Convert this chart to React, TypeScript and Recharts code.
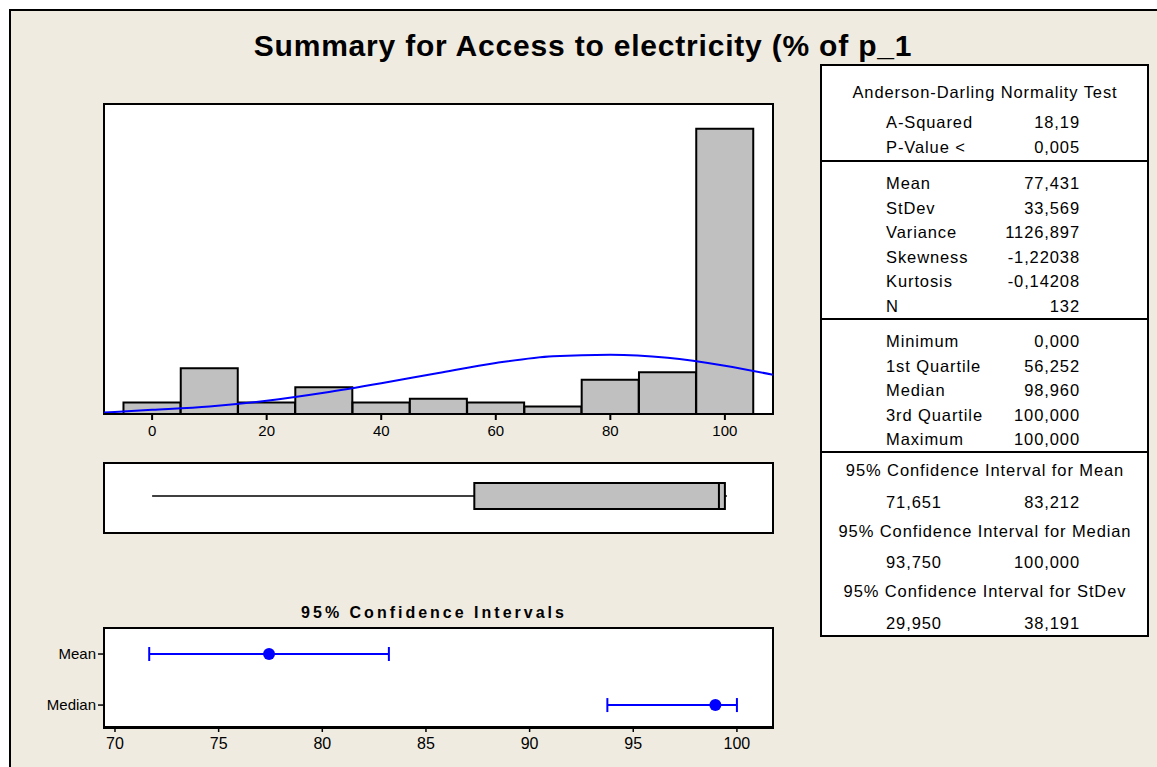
import React from "react";
import {
  ComposedChart,
  Bar,
  Line,
  XAxis,
  YAxis,
  ScatterChart,
  Scatter,
  ErrorBar,
} from "recharts";

const FONT = '"Liberation Sans", Arial, sans-serif';
const NARROW = '"Liberation Sans Narrow", "Arial Narrow", "Liberation Sans", sans-serif';
const BG = "#EFEBE0";

// histogram: bin midpoints (width 10) and counts
const binMids = [0, 10, 20, 30, 40, 50, 60, 70, 80, 90, 100];
const binCounts = [3, 12, 3, 7, 3, 4, 3, 2, 9, 11, 75];
const histTicks = [0, 20, 40, 60, 80, 100];

// fitted normal curve (counts)
const curveX = [-8.4, 0, 10, 20, 30, 40, 50, 60, 70, 80, 90, 100, 108.4];
const curveY = [0.4, 1.1, 2.0, 3.5, 5.6, 8.1, 10.8, 13.4, 15.2, 15.6, 14.8, 12.7, 10.3];

// boxplot: min, q1, median, q3, max
const boxValues = [0, 56.252, 98.96, 100, 100];

// confidence intervals
const ciLabels = ["Mean", "Median"];
const ciCenter = [77.431, 98.96];
const ciLow = [71.651, 93.75];
const ciHigh = [83.212, 100];
const ciTicks = [70, 75, 80, 85, 90, 95, 100];

// stats table
const adRows = [
  ["A-Squared", "18,19"],
  ["P-Value <", "0,005"],
];
const momentRows = [
  ["Mean", "77,431"],
  ["StDev", "33,569"],
  ["Variance", "1126,897"],
  ["Skewness", "-1,22038"],
  ["Kurtosis", "-0,14208"],
  ["N", "132"],
];
const quantileRows = [
  ["Minimum", "0,000"],
  ["1st Quartile", "56,252"],
  ["Median", "98,960"],
  ["3rd Quartile", "100,000"],
  ["Maximum", "100,000"],
];
const ciTableRows = [
  ["95% Confidence Interval for Mean", "71,651", "83,212"],
  ["95% Confidence Interval for Median", "93,750", "100,000"],
  ["95% Confidence Interval for StDev", "29,950", "38,191"],
];

const histData = binMids.map((mid, i) => ({ mid, count: binCounts[i] }));
const curveData = curveX.map((x, i) => ({ x, y: curveY[i] }));
const boxData = [{ name: "box", range: [boxValues[0], boxValues[4]] }];
const ciData = ciLabels.map((name, i) => ({
  name,
  x: ciCenter[i],
  y: ciLabels.length - i,
  err: [ciCenter[i] - ciLow[i], ciHigh[i] - ciCenter[i]],
}));

function Txt({ x, y, align = "left", children, style }: any) {
  const w = 1000;
  const left = align === "left" ? x : align === "right" ? x - w : x - w / 2;
  return (
    <div
      style={{
        position: "absolute",
        left,
        top: y - 11,
        width: w,
        height: 22,
        lineHeight: "22px",
        textAlign: align,
        whiteSpace: "nowrap",
        ...style,
      }}
    >
      {children}
    </div>
  );
}

function Panel({ left, top, width, height }: any) {
  return (
    <div
      style={{
        position: "absolute",
        left,
        top,
        width,
        height,
        boxSizing: "border-box",
        border: "2px solid #000",
        background: "#fff",
      }}
    />
  );
}

// box + whisker drawn inside the bar that spans min..max
const BoxShape = (props: any) => {
  const { x, y, width, height } = props;
  const [mn, q1, med, q3, mx] = boxValues;
  const px = (v: number) => x + (width * (v - mn)) / (mx - mn);
  const mid = y + height / 2;
  return (
    <g>
      <line x1={px(mn)} y1={mid} x2={px(q1)} y2={mid} stroke="#000" strokeWidth={1.5} />
      <line x1={px(q3)} y1={mid} x2={px(mx) + 2} y2={mid} stroke="#000" strokeWidth={1.5} />
      <rect x={px(q1)} y={y} width={px(q3) - px(q1)} height={height} fill="#C0C0C0" stroke="#000" strokeWidth={2} />
      <line x1={px(med)} y1={y} x2={px(med)} y2={y + height} stroke="#000" strokeWidth={2} />
    </g>
  );
};

const Dot = (props: any) => <circle cx={props.cx} cy={props.cy} r={6} fill="#0000FF" />;

export default function App() {
  const tableLeft = 886;
  const tableRight = 1080;
  const rowStep = 24.5;
  return (
    <div
      style={{
        position: "absolute",
        left: 0,
        top: 0,
        width: 1157,
        height: 767,
        overflow: "hidden",
        background: "#fff",
        fontFamily: FONT,
        color: "#000",
      }}
    >
      <div
        style={{
          position: "absolute",
          left: 9,
          top: 9,
          width: 1300,
          height: 900,
          borderLeft: "2px solid #000",
          borderTop: "2px solid #000",
          background: BG,
        }}
      />

      <Txt x={583} y={46} align="center" style={{ fontSize: 30, fontWeight: "bold", letterSpacing: 0.8 }}>
        Summary for Access to electricity (% of p_1
      </Txt>

      {/* histogram */}
      <Panel left={103} top={103} width={671} height={312} />
      <div style={{ position: "absolute", left: 104, top: 104 }}>
        <ComposedChart
          width={669}
          height={340}
          data={histData}
          margin={{ top: 0, right: 0, bottom: 0, left: 0 }}
          barCategoryGap={0}
          barGap={0}
        >
          <XAxis
            type="number"
            dataKey="mid"
            domain={[-8.4, 108.4]}
            allowDataOverflow
            ticks={histTicks}
            height={30}
            tickSize={6}
            tickMargin={5}
            axisLine={{ stroke: "#000", strokeWidth: 2 }}
            tickLine={{ stroke: "#000", strokeWidth: 2 }}
            tick={{ fill: "#000", fontSize: 15, fontFamily: FONT }}
          />
          <XAxis xAxisId="curve" type="number" dataKey="x" domain={[-8.4, 108.4]} allowDataOverflow hide />
          <YAxis hide domain={[0, 81.5]} allowDataOverflow />
          <Bar
            dataKey="count"
            fill="#C0C0C0"
            stroke="#000"
            strokeWidth={2}
            isAnimationActive={false}
          />
          <Line
            xAxisId="curve"
            data={curveData}
            dataKey="y"
            type="monotone"
            stroke="#0000FF"
            strokeWidth={2}
            dot={false}
            isAnimationActive={false}
          />
        </ComposedChart>
      </div>

      {/* boxplot */}
      <Panel left={103} top={462} width={671} height={72} />
      <div style={{ position: "absolute", left: 104, top: 463 }}>
        <ComposedChart
          width={669}
          height={70}
          layout="vertical"
          data={boxData}
          margin={{ top: 0, right: 0, bottom: 4, left: 0 }}
        >
          <XAxis type="number" domain={[-8.4, 108.4]} allowDataOverflow hide />
          <YAxis type="category" dataKey="name" hide />
          <Bar dataKey="range" barSize={26} shape={BoxShape} isAnimationActive={false} />
        </ComposedChart>
      </div>

      {/* confidence intervals */}
      <Txt x={434} y={613} align="center" style={{ fontSize: 16, fontWeight: "bold", letterSpacing: 3 }}>
        95% Confidence Intervals
      </Txt>
      <Panel left={103} top={627} width={671} height={102} />
      <div style={{ position: "absolute", left: 44, top: 628 }}>
        <ScatterChart width={729} height={124} margin={{ top: 0, right: 0, bottom: 0, left: 0 }}>
          <XAxis
            type="number"
            dataKey="x"
            domain={[69.47, 101.74]}
            allowDataOverflow
            ticks={ciTicks}
            height={25}
            tickSize={5}
            tickMargin={6}
            axisLine={{ stroke: "#000", strokeWidth: 2 }}
            tickLine={{ stroke: "#000", strokeWidth: 1.5 }}
            tick={{ fill: "#000", fontSize: 16, fontFamily: NARROW }}
          />
          <YAxis
            type="number"
            dataKey="y"
            domain={[0.57, 2.51]}
            allowDataOverflow
            ticks={[1, 2]}
            tickFormatter={(v: number) => ciLabels[ciLabels.length - v]}
            width={60}
            tickSize={6}
            tickMargin={2}
            axisLine={{ stroke: "#000", strokeWidth: 2 }}
            tickLine={{ stroke: "#000", strokeWidth: 1.5 }}
            tick={{ fill: "#000", fontSize: 15, fontFamily: NARROW }}
          />
          <Scatter data={ciData} shape={Dot} isAnimationActive={false}>
            <ErrorBar dataKey="err" direction="x" width={7} stroke="#0000FF" strokeWidth={2} />
          </Scatter>
        </ScatterChart>
      </div>

      {/* stats table */}
      <div
        style={{
          position: "absolute",
          left: 820,
          top: 64,
          width: 329,
          height: 573,
          boxSizing: "border-box",
          border: "2px solid #000",
          background: "#fff",
        }}
      >
        {[159, 317, 450].map((y) => (
          <div
            key={y}
            style={{ position: "absolute", left: 0, right: 0, top: y - 65, height: 0, borderTop: "2px solid #000" }}
          />
        ))}
      </div>
      <div style={{ fontSize: 16.5, letterSpacing: 0.9 }}>
        <Txt x={985} y={92} align="center">Anderson-Darling Normality Test</Txt>
        {adRows.map(([l, v], i) => (
          <React.Fragment key={l}>
            <Txt x={tableLeft} y={121.7 + i * 25.3}>{l}</Txt>
            <Txt x={tableRight} y={121.7 + i * 25.3} align="right">{v}</Txt>
          </React.Fragment>
        ))}
        {momentRows.map(([l, v], i) => (
          <React.Fragment key={l}>
            <Txt x={tableLeft} y={183 + i * rowStep}>{l}</Txt>
            <Txt x={tableRight} y={183 + i * rowStep} align="right">{v}</Txt>
          </React.Fragment>
        ))}
        {quantileRows.map(([l, v], i) => (
          <React.Fragment key={l}>
            <Txt x={tableLeft} y={341 + i * rowStep}>{l}</Txt>
            <Txt x={tableRight} y={341 + i * rowStep} align="right">{v}</Txt>
          </React.Fragment>
        ))}
        {ciTableRows.map(([h, lo, hi], i) => (
          <React.Fragment key={h}>
            <Txt x={985} y={470 + i * 60.5} align="center">{h}</Txt>
            <Txt x={tableLeft} y={501.5 + i * 60.5}>{lo}</Txt>
            <Txt x={tableRight} y={501.5 + i * 60.5} align="right">{hi}</Txt>
          </React.Fragment>
        ))}
      </div>
    </div>
  );
}
